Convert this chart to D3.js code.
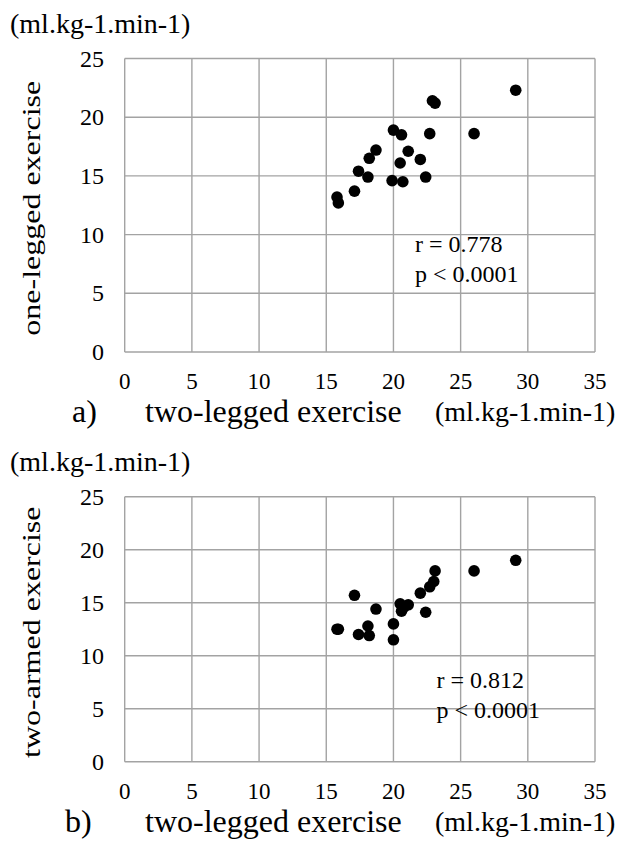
<!DOCTYPE html>
<meta charset="utf-8">
<script src="https://d3js.org/d3.v7.min.js"></script>
<body style="margin:0">
<div id="my_dataviz"></div>
<script>

// axis ticks (same for both panels)
var xTicks = [0, 5, 10, 15, 20, 25, 30, 35];
var yTicks = [0, 5, 10, 15, 20, 25];

// a) two-legged vs one-legged exercise
var twoLeggedA = [29.1, 22.9, 23.1, 20.0, 20.6, 22.7, 26.0, 18.7, 18.2, 21.1, 20.5, 22.0, 17.4, 18.1, 19.9, 20.7, 22.4, 17.1, 15.8, 15.9];
var oneLegged  = [22.3, 21.4, 21.2, 18.9, 18.5, 18.6, 18.6, 17.2, 16.5, 17.1, 16.1, 16.4, 15.4, 14.9, 14.6, 14.5, 14.9, 13.7, 13.2, 12.7];

// b) two-legged vs two-armed exercise
var twoLeggedB = [29.1, 26.0, 23.1, 23.0, 22.7, 22.0, 17.1, 20.5, 21.1, 20.6, 22.4, 18.7, 20.0, 18.1, 18.2, 17.4, 20.0, 15.8, 15.9, 20.8];
var twoArmed   = [19.0, 18.0, 18.0, 17.0, 16.5, 15.9, 15.7, 14.9, 14.8, 14.2, 14.1, 14.4, 13.0, 12.8, 11.9, 12.0, 11.5, 12.5, 12.5, 14.6];

var statsA = ["r = 0.778", "p < 0.0001"];
var statsB = ["r = 0.812", "p < 0.0001"];

var unitLabel = "(ml.kg-1.min-1)";

var panels = [
  { tag: "a)", ytitle: "one-legged exercise", xs: twoLeggedA, ys: oneLegged, stats: statsA,
    top: 58.5, bottom: 352, tagX: 72, statX: 21.6, statY: [8.5, 5.95] },
  { tag: "b)", ytitle: "two-armed exercise", xs: twoLeggedB, ys: twoArmed, stats: statsB,
    top: 496.7, bottom: 761.7, tagX: 65, statX: 23.2, statY: [6.95, 4.15] }
];

var left = 124.7, right = 595;
var serif = "'Liberation Serif'";

var svg = d3.select("#my_dataviz")
  .append("svg")
    .attr("width", 619)
    .attr("height", 841)
    .style("display", "block");

panels.forEach(function(p) {

  var x = d3.scaleLinear().domain([0, 35]).range([left, right]);
  var y = d3.scaleLinear().domain([0, 25]).range([p.bottom, p.top]);

  var g = svg.append("g");

  // grid
  g.selectAll(".vgrid")
    .data(xTicks)
    .enter()
    .append("line")
      .attr("x1", function(d) { return x(d); })
      .attr("x2", function(d) { return x(d); })
      .attr("y1", y(0))
      .attr("y2", y(25))
      .style("stroke", "#a3a3a3")
      .style("stroke-width", 1.4);

  g.selectAll(".hgrid")
    .data(yTicks)
    .enter()
    .append("line")
      .attr("x1", x(0))
      .attr("x2", x(35))
      .attr("y1", function(d) { return y(d); })
      .attr("y2", function(d) { return y(d); })
      .style("stroke", "#a3a3a3")
      .style("stroke-width", 1.4);

  // tick labels
  g.selectAll(".xlab")
    .data(xTicks)
    .enter()
    .append("text")
      .attr("x", function(d) { return x(d); })
      .attr("y", p.bottom + 37)
      .attr("text-anchor", "middle")
      .style("font-family", serif)
      .style("font-size", "23px")
      .text(function(d) { return d; });

  g.selectAll(".ylab")
    .data(yTicks)
    .enter()
    .append("text")
      .attr("x", 104)
      .attr("y", function(d) { return y(d); })
      .attr("dy", "0.34em")
      .attr("text-anchor", "end")
      .style("font-family", serif)
      .style("font-size", "24px")
      .text(function(d) { return d; });

  // dots
  g.selectAll(".dot")
    .data(p.xs)
    .enter()
    .append("circle")
      .attr("cx", function(d) { return x(d); })
      .attr("cy", function(d, i) { return y(p.ys[i]); })
      .attr("r", 5.8)
      .style("fill", "#000");

  // r and p values
  g.selectAll(".stat")
    .data(p.stats)
    .enter()
    .append("text")
      .attr("x", x(p.statX))
      .attr("y", function(d, i) { return y(p.statY[i]); })
      .style("font-family", serif)
      .style("font-size", "24px")
      .text(function(d) { return d; });

  // unit above the y axis
  g.append("text")
    .attr("x", 10)
    .attr("y", p.top - 26)
    .style("font-family", serif)
    .style("font-size", "28px")
    .text(unitLabel);

  // y axis title (rotated, squeezed across)
  g.append("g")
    .attr("transform", "translate(40," + ((p.top + p.bottom) / 2 + 3) + ") rotate(-90) scale(1,0.78)")
    .append("text")
      .attr("text-anchor", "middle")
      .style("font-family", serif)
      .style("font-size", "32px")
      .text(p.ytitle);

  // x axis title, panel tag and unit
  var base = p.bottom + 70;
  g.append("text")
    .attr("x", p.tagX)
    .attr("y", base)
    .style("font-family", serif)
    .style("font-size", "32px")
    .text(p.tag);

  g.append("text")
    .attr("x", 145)
    .attr("y", base)
    .style("font-family", serif)
    .style("font-size", "32px")
    .text("two-legged exercise");

  g.append("text")
    .attr("x", 435)
    .attr("y", base - 1)
    .style("font-family", serif)
    .style("font-size", "28px")
    .text(unitLabel);
});

</script>
</body>
